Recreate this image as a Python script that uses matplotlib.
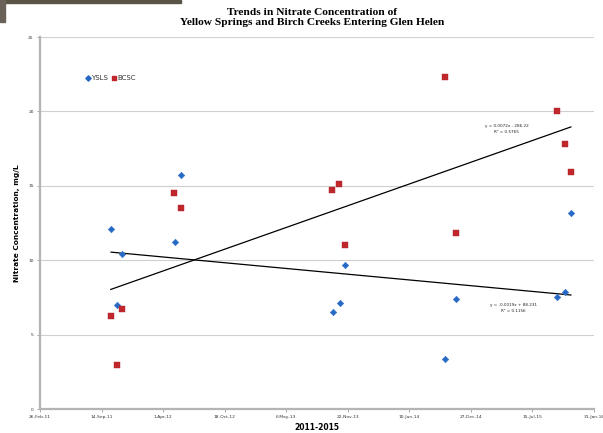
import numpy as np
import matplotlib.pyplot as plt
from matplotlib.patches import Rectangle

# Sample dates as Excel serial day numbers, nitrate in mg/L
ysls_dates = [40831, 40851, 40865, 41039, 41058, 41551, 41574, 41591,
              41917, 41952, 42279, 42307, 42325]
ysls_values = [12.1, 7.0, 10.4, 11.2, 15.75, 6.5, 7.1, 9.7,
               3.35, 7.4, 7.5, 7.85, 13.2]

bcsc_dates = [40830, 40850, 40865, 41036, 41057, 41550, 41572, 41591,
              41917, 41952, 42279, 42306, 42325]
bcsc_values = [6.25, 2.95, 6.7, 14.55, 13.5, 14.75, 15.1, 11.0,
               22.3, 11.8, 20.05, 17.8, 15.95]

x_ticks = list(range(40600, 42401, 200))
x_tick_labels = ['26-Feb-11', '14-Sep-11', '1-Apr-12', '18-Oct-12', '6-May-13',
                 '22-Nov-13', '10-Jun-14', '27-Dec-14', '15-Jul-15', '31-Jan-16']
y_ticks = [0, 5, 10, 15, 20, 25]

ysls_eq = 'y = -0.0019x + 88.231\nR² = 0.1156'
bcsc_eq = 'y = 0.0072x - 286.22\nR² = 0.5765'

blue = '#2467c4'
red = '#c0262b'


def trend(ax, dates, values):
    slope, icpt = np.polyfit(dates, values, 1)
    xs = np.array([min(dates), max(dates)])
    ax.plot(xs, slope * xs + icpt, color='black', lw=0.9, zorder=2)


def main():
    fig = plt.figure(figsize=(6.03, 4.33), dpi=100)
    ax = fig.add_axes([0.0663, 0.0554, 0.9187, 0.8591])

    # scrap of a photo along the top edge
    fig.patches.append(Rectangle((0, 0.994), 0.30, 0.006, transform=fig.transFigure,
                                 color='#5a5446', zorder=0))
    fig.patches.append(Rectangle((0, 0.95), 0.008, 0.05, transform=fig.transFigure,
                                 color='#6a6258', zorder=0))

    ax.scatter(ysls_dates, ysls_values, marker='D', s=10, color=blue,
               edgecolors='#3a78cc', linewidths=0.6, zorder=3)
    ax.scatter(bcsc_dates, bcsc_values, marker='s', s=22, color=red,
               edgecolors='#b02428', linewidths=0.3, zorder=3)

    trend(ax, ysls_dates, ysls_values)
    trend(ax, bcsc_dates, bcsc_values)

    ax.text(42137, 6.8, ysls_eq, fontsize=3, ha='center', va='center',
            linespacing=1.6, color='#222222')
    ax.text(42117, 18.8, bcsc_eq, fontsize=3, ha='center', va='center',
            linespacing=1.6, color='#222222')

    ax.set_xlim(40600, 42400)
    ax.set_ylim(0, 25)
    ax.set_xticks(x_ticks)
    ax.set_xticklabels(x_tick_labels)
    ax.set_yticks(y_ticks)
    ax.tick_params(labelsize=3.2, colors='#9a9a9a', labelcolor='#333333',
                   length=2.5, width=0.6, pad=2)
    ax.grid(axis='y', color='#d0d0d0', lw=0.8)
    ax.set_axisbelow(True)
    for side in ['top', 'right']:
        ax.spines[side].set_visible(False)
    for side in ['left', 'bottom']:
        ax.spines[side].set_color('#b4b4b4')
        ax.spines[side].set_linewidth(1.6)

    ax.set_xlabel('2011-2015', fontsize=5.5, fontweight='bold', labelpad=3)
    ax.set_ylabel('Nitrate Concentration, mg/L', fontsize=5.3,
                  fontweight='bold', labelpad=6)

    fig.suptitle('Trends in Nitrate Concentration of\n'
                 'Yellow Springs and Birch Creeks Entering Glen Helen',
                 x=0.518, y=0.982, fontsize=8.2, fontweight='bold',
                 family='Liberation Serif', linespacing=1.15)

    # legend drawn by hand as in the source sheet
    ax.scatter([40756], [22.25], marker='D', s=7, color=blue, zorder=3)
    ax.text(40767, 22.25, 'YSLS', fontsize=5, va='center', color='#333333')
    ax.scatter([40840], [22.25], marker='s', s=12, color=red, zorder=3)
    ax.text(40853, 22.25, 'BCSC', fontsize=5, va='center', color='#333333')

    fig.savefig('out.png', dpi=100)


if __name__ == "__main__":
    main()
